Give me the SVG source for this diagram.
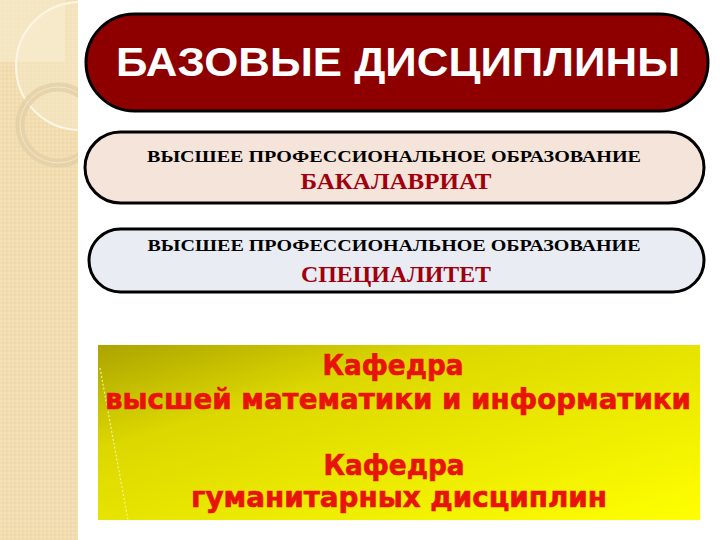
<svg xmlns="http://www.w3.org/2000/svg" width="720" height="540" viewBox="0 0 720 540">
  <defs>
    <pattern id="tex" width="4" height="4" patternUnits="userSpaceOnUse">
      <rect width="4" height="4" fill="#f1ddb0"/>
      <rect width="2" height="2" fill="#f3e1b8"/>
      <rect x="2" y="2" width="2" height="2" fill="#efd9aa"/>
    </pattern>
    <linearGradient id="yel" x1="0" y1="0" x2="1" y2="1">
      <stop offset="0" stop-color="#aca400"/>
      <stop offset="0.3" stop-color="#dcd800"/>
      <stop offset="1" stop-color="#ffff00"/>
    </linearGradient>
    <clipPath id="strip"><rect x="0" y="0" width="78" height="540"/></clipPath>
  </defs>
  <style>
    .pill { stroke: #000; stroke-width: 3; }
    .serifB { font-family: "Liberation Serif", "Times New Roman", serif; font-weight: bold; }
    .sub { font-size: 17px; fill: #000; }
    .lvl { font-size: 23px; fill: #a0000e; }
    .kaf { font-family: "DejaVu Sans", Verdana, sans-serif; font-weight: bold; font-size: 29px; fill: #e8140c; stroke: #e8140c; stroke-width: 0.7; }
  </style>
  <rect width="720" height="540" fill="#ffffff"/>
  <g id="decor">
    <rect x="0" y="0" width="78" height="540" fill="url(#tex)"/>
    <g clip-path="url(#strip)">
      <rect x="0" y="0" width="65" height="62" fill="#f6e8c8" opacity="0.8"/>
      <circle cx="80" cy="66" r="64" fill="#faf0d8" opacity="0.35"/>
      <circle cx="80" cy="66" r="64" fill="none" stroke="#fdf6e6" stroke-width="2"/>
      <circle cx="58" cy="125" r="38" fill="none" stroke="#e2cfa6" stroke-width="9" opacity="0.8"/>
      <circle cx="58" cy="125" r="38" fill="none" stroke="#f6ead0" stroke-width="1" opacity="0.8"/>
    </g>
  </g>
  <g id="title">
    <rect class="pill" x="86" y="14" width="622" height="97" rx="48.5" fill="#8e0000"/>
    <text x="398" y="76" text-anchor="middle" font-family="Liberation Sans, Arial, sans-serif" font-weight="bold" font-size="41" fill="#ffffff" textLength="564" lengthAdjust="spacingAndGlyphs">БАЗОВЫЕ ДИСЦИПЛИНЫ</text>
  </g>
  <g id="bachelor">
    <rect class="pill" x="85" y="132" width="619" height="71" rx="35.5" fill="#f4e4da"/>
    <text class="serifB sub" x="394" y="162" text-anchor="middle" textLength="494" lengthAdjust="spacingAndGlyphs">ВЫСШЕЕ ПРОФЕССИОНАЛЬНОЕ ОБРАЗОВАНИЕ</text>
    <text class="serifB lvl" x="396" y="189" text-anchor="middle" textLength="191" lengthAdjust="spacingAndGlyphs">БАКАЛАВРИАТ</text>
  </g>
  <g id="specialist">
    <rect class="pill" x="89" y="229" width="615" height="63" rx="31.5" fill="#e9edf3"/>
    <text class="serifB sub" x="394" y="251" text-anchor="middle" textLength="493" lengthAdjust="spacingAndGlyphs">ВЫСШЕЕ ПРОФЕССИОНАЛЬНОЕ ОБРАЗОВАНИЕ</text>
    <text class="serifB lvl" x="396" y="282" text-anchor="middle" textLength="190" lengthAdjust="spacingAndGlyphs">СПЕЦИАЛИТЕТ</text>
  </g>
  <g id="departments">
    <rect x="98" y="345" width="602" height="175" fill="url(#yel)"/>
    <line x1="100" y1="368" x2="128" y2="520" stroke="#f4f0a0" stroke-width="1.2" stroke-dasharray="2 2"/>
    <text class="kaf" x="393" y="375" text-anchor="middle" textLength="141" lengthAdjust="spacingAndGlyphs">Кафедра</text>
    <text class="kaf" x="398" y="409" text-anchor="middle" textLength="586" lengthAdjust="spacingAndGlyphs">высшей математики и информатики</text>
    <text class="kaf" x="394" y="475" text-anchor="middle" textLength="141" lengthAdjust="spacingAndGlyphs">Кафедра</text>
    <text class="kaf" x="399" y="507" text-anchor="middle" textLength="416" lengthAdjust="spacingAndGlyphs">гуманитарных дисциплин</text>
  </g>
  <g id="connectors"></g>
</svg>
